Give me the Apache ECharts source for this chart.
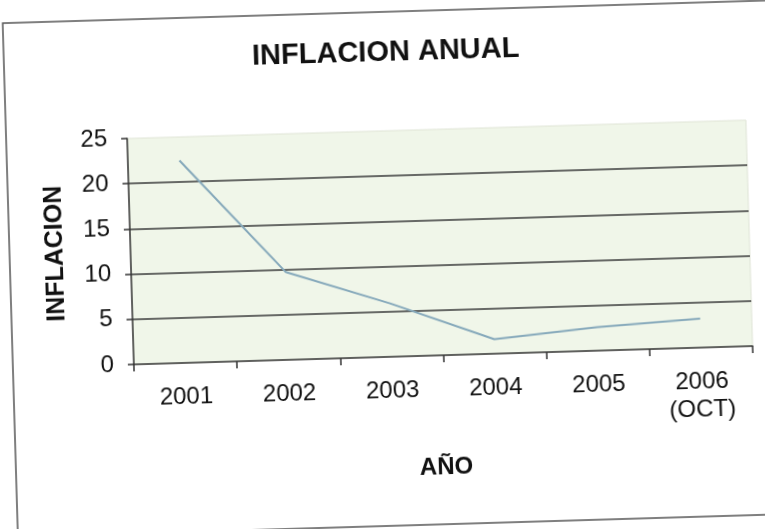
<!DOCTYPE html>
<html>
<head>
<meta charset="utf-8">
<script src="https://cdn.jsdelivr.net/npm/echarts@6/dist/echarts.min.js"></script>
<style>
  html, body { margin: 0; padding: 0; background: #ffffff; overflow: hidden; width: 765px; height: 529px; }
  #chart {
    position: absolute; left: 0; top: 0;
    width: 800px; height: 560px;
    transform-origin: 382.5px 264.5px;
    transform: rotate(-1.7deg);
  }
</style>
</head>
<body>
<div id="chart"></div>
<script>
// Annual inflation, 2001 to October 2006
const years = ['2001', '2002', '2003', '2004', '2005', '2006\n(OCT)'];
const inflation = [22.4, 9.7, 5.9, 1.6, 2.6, 3.2];
const yMin = 0;
const yMax = 25;
const yStep = 5;

const chart = echarts.init(document.getElementById('chart'), null, { renderer: 'canvas' });

chart.setOption({
  backgroundColor: 'transparent',
  animation: false,
  title: {
    text: 'INFLACION ANUAL',
    left: 387,
    top: 33,
    textAlign: 'center',
    textStyle: {
      fontFamily: 'Liberation Sans, Arial, sans-serif',
      fontWeight: 'bold',
      fontSize: 29,
      color: '#111'
    }
  },
  graphic: [{
    type: 'rect',
    z: -10,
    shape: { x: 10, y: 12, width: 820, height: 514 },
    style: { fill: 'none', stroke: '#555', lineWidth: 1.5 }
  }],
  grid: {
    left: 131, top: 131, width: 619, height: 226,
    show: true,
    backgroundColor: '#f0f6e9',
    borderColor: '#dfe4d6',
    borderWidth: 1
  },
  xAxis: {
    type: 'category',
    data: years,
    boundaryGap: true,
    name: 'AÑO',
    nameLocation: 'middle',
    nameGap: 100,
    nameTextStyle: {
      fontFamily: 'Liberation Sans, Arial, sans-serif',
      fontWeight: 'bold',
      fontSize: 24,
      color: '#111'
    },
    axisLine: { show: true, lineStyle: { color: '#333', width: 1.5 } },
    axisTick: { show: true, alignWithLabel: false, length: 7, lineStyle: { color: '#333', width: 1.5 } },
    axisLabel: {
      margin: 20,
      fontFamily: 'Liberation Sans, Arial, sans-serif',
      fontSize: 24,
      lineHeight: 28,
      color: '#111'
    },
    splitLine: { show: false }
  },
  yAxis: {
    type: 'value',
    min: yMin,
    max: yMax,
    interval: yStep,
    name: 'INFLACION',
    nameLocation: 'middle',
    nameRotate: 90,
    nameGap: 62,
    nameTextStyle: {
      fontFamily: 'Liberation Sans, Arial, sans-serif',
      fontWeight: 'bold',
      fontSize: 25,
      color: '#111'
    },
    axisLine: { show: true, lineStyle: { color: '#333', width: 1.5 } },
    axisTick: { show: true, length: 6, lineStyle: { color: '#333', width: 1.5 } },
    axisLabel: {
      margin: 20,
      fontFamily: 'Liberation Sans, Arial, sans-serif',
      fontSize: 24,
      color: '#111'
    },
    splitLine: {
      show: true,
      showMinLine: false,
      showMaxLine: false,
      lineStyle: { color: '#3a3a3a', width: 1.5 }
    }
  },
  series: [{
    type: 'line',
    data: inflation,
    symbol: 'none',
    lineStyle: { color: '#86a9bb', width: 2 }
  }]
});
</script>
</body>
</html>
